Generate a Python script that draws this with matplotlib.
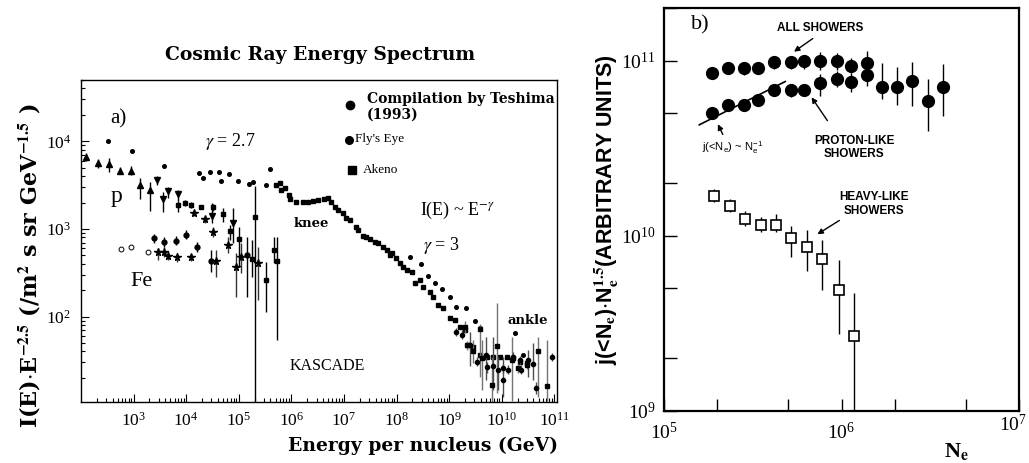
import numpy as np
import matplotlib
matplotlib.use("Agg")
import matplotlib.pyplot as plt
from matplotlib.ticker import LogLocator, NullFormatter, FixedLocator, FixedFormatter

plt.rcParams['font.family'] = ['Liberation Serif', 'DejaVu Serif']
plt.rcParams['mathtext.fontset'] = 'stix'

# ---------------- panel a: cosmic ray spectrum (E in GeV, I*E^2.5) ----------------
p_tri_E = [127, 206, 344, 551, 891, 1340, 2080]
p_tri_I = [6.6e3, 5.6e3, 5.5e3, 4.6e3, 4.6e3, 3.2e3, 2.8e3]
p_tri_lo = [5.9e3, 5.0e3, 4.5e3, 4.2e3, 4.1e3, 2.2e3, 1.6e3]
p_tri_hi = [7.3e3, 6.2e3, 6.4e3, 5.1e3, 5.2e3, 3.8e3, 3.4e3]

p_dtri_E = [2790, 3570, 4450, 6890, 3.09e4, 7.7e4]
p_dtri_I = [3.6e3, 2.2e3, 2.7e3, 2.5e3, 1.4e3, 1.16e3]
p_dtri_lo = [3.2e3, 1.57e3, 2.24e3, 2.1e3, 1.16e3, 690]
p_dtri_hi = [4.0e3, 2.66e3, 3.0e3, 2.8e3, 1.96e3, 1.72e3]

p_sq_E = [7100, 9660, 1.26e4, 1.92e4, 3.2e4, 5.0e4, 6.85e4, 1.0e5, 2.0e5]
p_sq_I = [1.9e3, 2.0e3, 1.9e3, 1.8e3, 1.77e3, 1.48e3, 955, 764, 1.38e3]
p_sq_lo = [1.57e3, 1.85e3, 1.75e3, 1.7e3, 1.6e3, 1.21e3, 750, 372, 1]
p_sq_hi = [2.1e3, 2.15e3, 2.05e3, 1.9e3, 1.95e3, 1.72e3, 1.11e3, 1.05e3, 3.1e3]

kas_sq_E = [1.8e5, 3.33e5, 4.58e5, 5.3e5]
kas_sq_I = [455, 262, 575, 436]
kas_sq_lo = [286, 114, 406, 54]
kas_sq_hi = [748, 424, 817, 817]

star_E = [2920, 3850, 4450, 6590, 1.24e4, 1.43e4, 2.32e4, 3.2e4, 3.7e4, 6.2e4, 8.9e4, 1.11e5, 2.29e5]
star_I = [540, 550, 497, 475, 475, 1.53e3, 1.29e3, 930, 430, 658, 372, 483, 406]
star_lo = [444, 480, 440, 420, 430, 1.4e3, 1.18e3, 817, 286, 528, 169, 313, 155]
star_hi = [600, 620, 560, 530, 520, 1.65e3, 1.4e3, 1.06e3, 575, 817, 532, 687, 628]

fe_E = [2480, 3850, 6410, 9950, 1.61e4, 2.9e4, 1.42e5]
fe_I = [780, 715, 735, 855, 620, 435, 505]
fe_lo = [700, 630, 650, 760, 551, 326, 169]
fe_hi = [870, 810, 830, 960, 716, 575, 817]

fe_open_E = [575, 891, 1850]
fe_open_I = [590, 620, 540]

tesh_E = [320, 916, 3850, 1.78e4, 2.13e4, 2.85e4, 4.17e4, 4.62e4, 6.65e4, 9.57e4,
          1.55e5, 1.85e5, 3.23e5, 3.85e5]
tesh_I = [1.0e4, 7.7e3, 5.2e3, 4.4e3, 3.85e3, 4.5e3, 4.5e3, 3.56e3, 4.2e3, 3.56e3,
          3.26e3, 3.4e3, 3.2e3, 4.8e3]

knee_E = [5.0e5, 5.96e5, 6.43e5, 7.41e5, 8.95e5, 9.53e5, 1.24e6, 1.66e6, 2.06e6, 2.57e6,
          3.2e6, 4.1e6, 4.95e6, 5.75e6, 6.65e6, 7.69e6, 9.57e6, 1.11e7, 1.29e7, 1.67e7,
          1.85e7, 2.3e7, 2.67e7, 3.09e7, 3.85e7, 4.45e7, 5.53e7, 6.43e7, 7.41e7, 8.0e7,
          9.95e7, 1.15e8, 1.33e8, 1.55e8, 1.92e8, 2.22e8, 2.77e8, 3.2e8, 4.3e8, 4.97e8,
          6.17e8, 7.69e8, 1.03e9, 1.29e9, 1.6e9, 2.0e9, 2.3e9, 2.87e9, 3.85e9, 5.15e9,
          6.89e9, 9.25e9, 1.24e10, 1.66e10, 2.22e10, 2.95e10]
knee_I = [3180, 3320, 2790, 2910, 2440, 2180, 2050, 2050, 2050, 2080,
          2140, 2180, 2240, 2050, 1800, 1650, 1510, 1350, 1270, 1050,
          975, 820, 800, 764, 716, 687, 628, 575, 505, 528,
          463, 413, 372, 340, 326, 240, 262, 220, 193, 169,
          136, 125, 96, 92, 77, 70, 47.5, 45, 36.6, 35,
          35, 35, 35, 33.6, 30.7, 29.4]

fly_E = [1.79e8, 2.85e8, 3.88e8, 5.35e8, 7.16e8, 1.03e9, 1.34e9, 2.08e9, 3.09e9, 3.85e9,
         1.78e10, 2.57e10]
fly_I = [475, 396, 294, 244, 205, 169, 130, 125, 90, 74, 64.7, 36.6]

ank_sq_E = [2.0e9, 2.14e9, 2.79e9, 3.85e9, 4.14e9, 6.43e9, 8.0e9, 1.55e10, 2.07e10, 3.06e10,
            4.95e10, 7.36e10]
ank_sq_I = [75.5, 47.5, 40, 71.6, 33.6, 16.6, 46.4, 32, 25.8, 28, 41, 16.2]
ank_sq_lo = [64.6, 42, 29.4, 20.7, 14.6, 9, 13.4, 11, 23, 25, 12.2, 11]
ank_sq_hi = [88.5, 53, 54, 83, 54, 35, 142, 59, 29, 31, 59, 54]

ank_dot_E = [1.34e9, 1.72e9, 2.48e9, 3.33e9, 5.0e9, 5.3e9, 6.71e9, 8.57e9, 1.04e10, 1.07e10,
             1.33e10, 1.66e10, 2.22e10, 2.29e10, 3.16e10, 3.98e10, 4.48e10, 8.9e10]
ank_dot_I = [67.6, 62, 47.5, 30.7, 36.6, 26.5, 27.4, 24.7, 25.8, 19,
             24.7, 35, 32, 24.7, 32, 28.8, 15.3, 34.4]
ank_dot_lo = [60, 55, 27, 27, 19, 23, 14.6, 14.6, 23, 12.2,
              22, 31, 29, 22, 20.7, 19, 13, 31]
ank_dot_hi = [75, 70, 67.6, 35, 59, 30, 59, 35, 29, 35,
              28, 39, 36, 28, 41.6, 49.7, 18, 38]

# ---------------- panel b: size spectra ----------------
all_N = [1.87e5, 2.30e5, 2.83e5, 3.40e5, 4.18e5, 5.17e5, 6.17e5, 7.60e5, 9.40e5, 1.135e6, 1.39e6]
all_j = [8.5e10, 9.1e10, 9.1e10, 9.1e10, 9.8e10, 9.8e10, 9.9e10, 1.0e11, 1.0e11, 9.3e10, 9.7e10]
all_lo = [8.1e10, 8.4e10, 8.3e10, 8.5e10, 9.0e10, 9.0e10, 9.0e10, 8.8e10, 8.8e10, 8.5e10, 8.8e10]
all_hi = [8.9e10, 9.8e10, 9.8e10, 9.8e10, 1.06e11, 1.05e11, 1.08e11, 1.12e11, 1.1e11, 1.03e11, 1.14e11]

prot_N = [1.87e5, 2.30e5, 2.83e5, 3.40e5, 4.18e5, 5.17e5, 6.17e5, 7.60e5, 9.40e5, 1.135e6,
          1.39e6, 1.70e6, 2.05e6, 2.48e6, 3.06e6, 3.75e6]
prot_j = [5.0e10, 5.6e10, 5.6e10, 6.0e10, 6.8e10, 6.8e10, 6.8e10, 7.5e10, 7.9e10, 7.6e10,
          8.3e10, 7.1e10, 7.1e10, 7.7e10, 5.9e10, 7.1e10]
prot_lo = [4.75e10, 5.18e10, 5.18e10, 5.53e10, 6.27e10, 6.18e10, 6.31e10, 6.31e10, 7.05e10, 6.65e10,
           7.14e10, 6.04e10, 5.58e10, 5.53e10, 3.98e10, 4.81e10]
prot_hi = [5.3e10, 6.04e10, 6.04e10, 6.31e10, 7.36e10, 7.36e10, 7.26e10, 8.4e10, 8.77e10, 8.5e10,
           9.8e10, 9.7e10, 9.17e10, 9.8e10, 7.85e10, 9.57e10]

heavy_N = [1.92e5, 2.35e5, 2.87e5, 3.51e5, 4.28e5, 5.21e5, 6.37e5, 7.76e5, 9.68e5, 1.17e6]
heavy_j = [1.69e10, 1.47e10, 1.25e10, 1.15e10, 1.15e10, 9.7e9, 8.65e9, 7.4e9, 4.9e9, 2.66e9]
heavy_lo = [1.55e10, 1.36e10, 1.14e10, 1.05e10, 1.045e10, 7.6e9, 6.3e9, 4.9e9, 2.75e9, 5e8]
heavy_hi = [1.85e10, 1.62e10, 1.39e10, 1.28e10, 1.33e10, 1.14e10, 1.08e10, 9.5e9, 7.3e9, 4.7e9]

fit_N = [1.58e5, 4.82e5]
fit_j = [4.3e10, 7.6e10]

b_xticks = [1e5, 1e6, 1e7]
b_xticklabels = [r'$\mathdefault{10^{5}}$', r'$\mathdefault{10^{6}}$', '']

W, H = 1029, 463
fig = plt.figure(figsize=(W / 100, H / 100), dpi=100)
BOLD_SERIF = 'DejaVu Serif'


def fx(px):
    return px / W


def fy(py):
    return 1 - py / H


def eb(ax, x, y, lo, hi, fmt, ms, mfc='k', ecolor='k', mew=1.0):
    y = np.array(y)
    yerr = [y - np.array(lo), np.array(hi) - y]
    ax.errorbar(x, y, yerr=yerr, fmt=fmt, ms=ms, color='k', mfc=mfc, mec='k', mew=mew,
                ecolor=ecolor, elinewidth=1.0, capsize=0)


# ---------- panel a ----------
axa = fig.add_axes([fx(81), fy(401.7), 476 / W, 321.7 / H])
axa.set_xscale('log')
axa.set_yscale('log')

eb(axa, p_tri_E, p_tri_I, p_tri_lo, p_tri_hi, '^', 4)
eb(axa, p_dtri_E, p_dtri_I, p_dtri_lo, p_dtri_hi, 'v', 4)
eb(axa, p_sq_E, p_sq_I, p_sq_lo, p_sq_hi, 's', 3.5)
eb(axa, kas_sq_E, kas_sq_I, kas_sq_lo, kas_sq_hi, 's', 3.5)
eb(axa, star_E, star_I, star_lo, star_hi, '*', 5.5, ecolor='0.2')
eb(axa, fe_E, fe_I, fe_lo, fe_hi, 'o', 3.5)
axa.plot(fe_open_E, fe_open_I, 'o', ms=3.5, mfc='white', mec='k', mew=0.7, ls='none')
axa.plot(tesh_E, tesh_I, 'o', ms=2.6, color='k', ls='none')
axa.plot(knee_E, knee_I, 's', ms=3.4, color='k', ls='none')
axa.plot(fly_E, fly_I, 'o', ms=2.6, color='k', ls='none')
eb(axa, ank_sq_E, ank_sq_I, ank_sq_lo, ank_sq_hi, 's', 3.2, ecolor='0.45')
eb(axa, ank_dot_E, ank_dot_I, ank_dot_lo, ank_dot_hi, 'o', 3.0, ecolor='0.3')

axa.set_xticks([1e3, 1e4, 1e5, 1e6, 1e7, 1e8, 1e9, 1e10, 1e11])
axa.xaxis.set_minor_locator(LogLocator(base=10, subs=np.arange(2, 10), numticks=200))
axa.xaxis.set_minor_formatter(NullFormatter())
axa.yaxis.set_minor_formatter(NullFormatter())
axa.set_xlim(1.0e2, 1.12e11)
axa.set_ylim(10.7, 5.0e4)
axa.tick_params(which='both', direction='in', labelsize=12.5, width=0.8)
axa.tick_params(which='major', length=6, pad=7)
axa.tick_params(which='minor', length=3)
for s in axa.spines.values():
    s.set_linewidth(1.0)

fig.text(fx(320), fy(55), 'Cosmic Ray Energy Spectrum', family=BOLD_SERIF, fontsize=13.5,
         fontweight='bold', ha='center', va='center')
fig.text(fx(423), fy(446), 'Energy per nucleus (GeV)', family=BOLD_SERIF, fontsize=13.5,
         fontweight='bold', ha='center', va='center')
fig.text(fx(30), fy(266),
         r'I(E)$\cdot$E$^{\mathbf{-2.5}}$ (/m$^{\mathbf{2}}$ s sr GeV$^{\mathbf{-1.5}}$ )',
         family=BOLD_SERIF, fontsize=16, fontweight='bold', rotation=90, ha='center', va='center')

fig.text(fx(118), fy(119), 'a)', fontsize=15, ha='center', va='center')
fig.text(fx(230.7), fy(141), r'$\gamma$ = 2.7', fontsize=13, ha='center', va='center')
fig.text(fx(116.7), fy(196.7), 'p', fontsize=17, ha='center', va='center')
fig.text(fx(141.7), fy(282), 'Fe', fontsize=16, ha='center', va='center')
fig.text(fx(311.7), fy(223.3), 'knee', family=BOLD_SERIF, fontsize=9.5, fontweight='bold',
         ha='center', va='center')
fig.text(fx(458), fy(210), r'I(E) ~ E$^{-\gamma}$', fontsize=13, ha='center', va='center')
fig.text(fx(441.7), fy(245), r'$\gamma$ = 3', fontsize=13, ha='center', va='center')
fig.text(fx(528), fy(320.7), 'ankle', family=BOLD_SERIF, fontsize=9.5, fontweight='bold',
         ha='center', va='center')
fig.text(fx(327.7), fy(366), 'KASCADE', fontsize=11.5, ha='center', va='center')

# legend of panel a
axa.plot([fx(350)], [fy(105)], 'o', ms=6, color='k', transform=fig.transFigure, clip_on=False)
axa.plot([fx(349.3)], [fy(140)], 'o', ms=5.5, color='k', transform=fig.transFigure, clip_on=False)
axa.plot([fx(352.3)], [fy(170)], 's', ms=5.5, color='k', transform=fig.transFigure, clip_on=False)
fig.text(fx(366.7), fy(99.3), 'Compilation by Teshima', family=BOLD_SERIF, fontsize=10,
         fontweight='bold', ha='left', va='center')
fig.text(fx(366.7), fy(115), '(1993)', family=BOLD_SERIF, fontsize=10, fontweight='bold',
         ha='left', va='center')
fig.text(fx(355), fy(139.3), "Fly's Eye", fontsize=9.5, ha='left', va='center')
fig.text(fx(362.7), fy(170), 'Akeno', fontsize=9.5, ha='left', va='center')

# ---------- panel b ----------
axb = fig.add_axes([fx(664), fy(410.7), 355 / W, 402.7 / H])
axb.set_xscale('log')
axb.set_yscale('log')

eb(axb, all_N, all_j, all_lo, all_hi, 'o', 8.5)
eb(axb, prot_N, prot_j, prot_lo, prot_hi, 'o', 8.5)
eb(axb, heavy_N, heavy_j, heavy_lo, heavy_hi, 's', 6.5, mfc='white', mew=1.2)
axb.plot(fit_N, fit_j, '-', color='k', lw=1.2)

axb.set_xlim(1e5, 1e7)
axb.set_ylim(1e9, 2e11)
axb.xaxis.set_major_locator(FixedLocator(b_xticks))
axb.xaxis.set_major_formatter(FixedFormatter(b_xticklabels))
axb.yaxis.set_major_locator(LogLocator(base=10, numticks=10))
axb.xaxis.set_minor_locator(LogLocator(base=10, subs=(2, 5), numticks=20))
axb.yaxis.set_minor_locator(LogLocator(base=10, subs=(2, 5), numticks=20))
axb.xaxis.set_minor_formatter(NullFormatter())
axb.yaxis.set_minor_formatter(NullFormatter())
axb.tick_params(which='both', direction='in', labelsize=14, width=1.0, length=9)
axb.tick_params(axis='x', pad=8)
axb.tick_params(axis='y', pad=6)
for s in axb.spines.values():
    s.set_linewidth(1.6)
# last x tick label, kept inside the figure edge
fig.text(fx(1027), fy(425), r'$\mathdefault{10^{7}}$', fontsize=14, ha='right', va='center')

axb.set_ylabel(r'j(<N$_{\mathbf{e}}$)$\cdot$N$_{\mathbf{e}}^{\mathbf{1.5}}$(ARBITRARY UNITS)',
               fontsize=15.5, fontweight='bold', family='Liberation Sans', labelpad=0)
fig.text(fx(956.7), fy(451), r'N$_{\mathbf{e}}$', fontsize=16, fontweight='bold',
         ha='center', va='center')
fig.text(fx(700), fy(25), 'b)', fontsize=16, ha='center', va='center')

sans = dict(family='Liberation Sans', fontweight='bold', fontsize=8.5, ha='center', va='center')
fig.text(fx(820), fy(28), 'ALL SHOWERS', **sans)
fig.text(fx(854), fy(147.5), 'PROTON-LIKE\nSHOWERS', linespacing=1.15, **sans)
fig.text(fx(874), fy(204), 'HEAVY-LIKE\nSHOWERS', linespacing=1.15, **sans)
fig.text(fx(733), fy(148), r'j(<N$_\mathregular{e}$) ~ N$_\mathregular{e}^{\mathregular{-1}}$',
         family='Liberation Sans', fontsize=8, ha='center', va='center')

arrow = dict(arrowstyle='-|>', color='k', lw=1.0, mutation_scale=8)
for tail, tip in [((815, 37), (791.7, 53.3)), ((829, 123), (810, 95)),
                  ((724, 137), (716.7, 121.7)), ((841.7, 219), (815, 235.7))]:
    axb.annotate('', xy=(fx(tip[0]), fy(tip[1])), xytext=(fx(tail[0]), fy(tail[1])),
                 xycoords='figure fraction', textcoords='figure fraction', arrowprops=arrow)

fig.savefig('out.png', dpi=100)
